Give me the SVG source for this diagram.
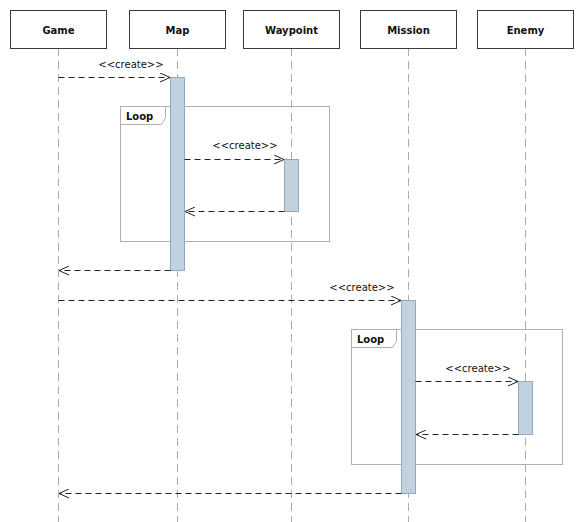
<svg xmlns="http://www.w3.org/2000/svg" width="582" height="522" viewBox="0 0 582 522">
<style>
.hdr{fill:#fff;stroke:#3a3a3a;stroke-width:1}
.hl{font-family:"DejaVu Sans",sans-serif;font-weight:bold;font-size:10px;fill:#111;text-anchor:middle}
.life{stroke:#aaa;stroke-width:1;stroke-dasharray:8,5;fill:none}
.act{fill:#c1d1dd;stroke:#8fa9c0;stroke-width:1}
.msg{stroke:#222;stroke-width:1;stroke-dasharray:6,4;fill:none}
.ml{font-family:"DejaVu Sans",sans-serif;font-size:10px;fill:#111;text-anchor:middle}
.frame{fill:none;stroke:#b0b0b0;stroke-width:1}
.tab{fill:#fff;stroke:#b0b0b0;stroke-width:1}
.fl{font-family:"DejaVu Sans",sans-serif;font-weight:bold;font-size:10px;fill:#111}
</style>
<defs>
<marker id="open" viewBox="0 0 10 10" refX="10" refY="5" markerWidth="10" markerHeight="10" markerUnits="userSpaceOnUse" orient="auto">
<path d="M0,0.5 L10,5 L0,9.5" fill="none" stroke="#222" stroke-width="1"/>
</marker>
</defs>
<rect width="582" height="522" fill="#fff"/>
<g id="lifelines">
<line class="life" x1="58.5" y1="48" x2="58.5" y2="522"/>
<line class="life" x1="177.5" y1="48" x2="177.5" y2="522"/>
<line class="life" x1="291.5" y1="48" x2="291.5" y2="522"/>
<line class="life" x1="408.5" y1="48" x2="408.5" y2="522"/>
<line class="life" x1="525.5" y1="48" x2="525.5" y2="522"/>
</g>
<g id="Game"><rect class="hdr" x="10.5" y="10.5" width="96" height="38"/><text class="hl" x="58.5" y="34">Game</text></g>
<g id="Map"><rect class="hdr" x="129.5" y="10.5" width="96" height="38"/><text class="hl" x="177.5" y="34">Map</text></g>
<g id="Waypoint"><rect class="hdr" x="243.5" y="10.5" width="96" height="38"/><text class="hl" x="291.5" y="34">Waypoint</text></g>
<g id="Mission"><rect class="hdr" x="360.5" y="10.5" width="96" height="38"/><text class="hl" x="408.5" y="34">Mission</text></g>
<g id="Enemy"><rect class="hdr" x="477.5" y="10.5" width="96" height="38"/><text class="hl" x="525.5" y="34">Enemy</text></g>
<g id="loop1">
<rect class="frame" x="120.5" y="106.5" width="209" height="135"/>
<path class="tab" d="M120.5,106.5 H165.5 V118 L161.5,124.5 H120.5 Z"/>
<text class="fl" x="126" y="120">Loop</text>
</g>
<g id="loop2">
<rect class="frame" x="351.5" y="329.5" width="211" height="135"/>
<path class="tab" d="M351.5,329.5 H396.5 V341 L392.5,347.5 H351.5 Z"/>
<text class="fl" x="357" y="343">Loop</text>
</g>
<g id="activations">
<rect class="act" x="170.5" y="77.5" width="14" height="193"/>
<rect class="act" x="284.5" y="159.5" width="14" height="52"/>
<rect class="act" x="401.5" y="300.5" width="14" height="193"/>
<rect class="act" x="518.5" y="381.5" width="14" height="53"/>
</g>
<g id="connectors">
<line class="msg" x1="58.5" y1="77.5" x2="170" y2="77.5" marker-end="url(#open)"/>
<text class="ml" x="131" y="68">&lt;&lt;create&gt;&gt;</text>
<line class="msg" x1="184.5" y1="159.5" x2="284" y2="159.5" marker-end="url(#open)" stroke="#555"/>
<text class="ml" x="245" y="149">&lt;&lt;create&gt;&gt;</text>
<line class="msg" x1="284.5" y1="211.5" x2="185" y2="211.5" marker-end="url(#open)"/>
<line class="msg" x1="170.5" y1="270.5" x2="59" y2="270.5" marker-end="url(#open)"/>
<line class="msg" x1="58.5" y1="300.5" x2="401" y2="300.5" marker-end="url(#open)"/>
<text class="ml" x="362" y="291">&lt;&lt;create&gt;&gt;</text>
<line class="msg" x1="415.5" y1="381.5" x2="518" y2="381.5" marker-end="url(#open)"/>
<text class="ml" x="478" y="372">&lt;&lt;create&gt;&gt;</text>
<line class="msg" x1="518.5" y1="434.5" x2="416" y2="434.5" marker-end="url(#open)"/>
<line class="msg" x1="401.5" y1="493.5" x2="59" y2="493.5" marker-end="url(#open)"/>
</g>
</svg>
